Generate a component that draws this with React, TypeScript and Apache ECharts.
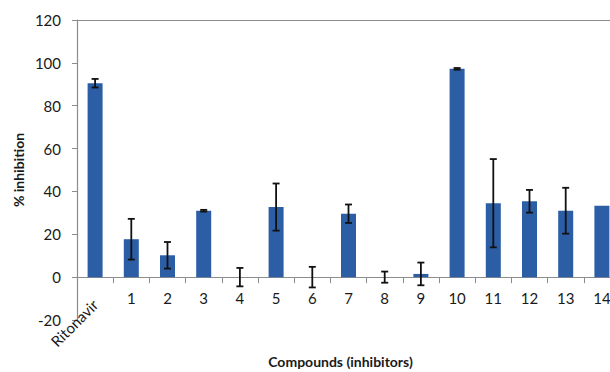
import React, { useEffect, useRef } from "react";
import * as echarts from "echarts";

const categories = ["Ritonavir", "1", "2", "3", "4", "5", "6", "7", "8", "9", "10", "11", "12", "13", "14"];
const inhibition = [90.5, 17.7, 10.2, 31.0, 0, 32.7, 0, 29.6, 0, 1.5, 97.2, 34.5, 35.4, 31.0, 33.3];
const errors = [2.0, 9.5, 6.2, 0.4, 4.3, 11.0, 4.8, 4.3, 2.6, 5.3, 0.4, 20.6, 5.3, 10.7, 0];
const yTicks = { min: -20, max: 120, interval: 20 };

const FONT = "Lato, 'Open Sans', sans-serif";

export default function App() {
  const ref = useRef<HTMLDivElement>(null);
  useEffect(() => {
    document.body.style.margin = "0";
    const chart = echarts.init(ref.current!, null, { renderer: "svg" });
    const errData = categories.map((_, i) => [i, inhibition[i], errors[i]]);
    chart.setOption({
      animation: false,
      textStyle: { fontFamily: FONT },
      grid: { left: 77, top: 20, width: 543, height: 300, outerBoundsMode: "none", containLabel: false },
      xAxis: [
        {
          type: "category",
          data: categories,
          position: "bottom",
          axisLine: { show: true, onZero: true, lineStyle: { color: "#8c8c8c", width: 1.2 } },
          axisTick: { show: true, inside: false, length: 6, interval: 0, lineStyle: { color: "#8c8c8c" } },
          axisLabel: {
            interval: 0,
            margin: -30,
            fontSize: 15,
            color: "#1a1a1a",
            fontFamily: FONT,
            formatter: (v: string, i: number) => (i === 0 ? "" : v),
          },
          name: "Compounds (inhibitors)",
          nameLocation: "middle",
          nameGap: 34,
          nameMoveOverlap: false,
          nameTextStyle: { fontSize: 14, fontWeight: "bold", color: "#1a1a1a", fontFamily: FONT, padding: [0, 16, 0, 0] },
        },
        {
          type: "category",
          data: categories,
          position: "bottom",
          axisLine: { show: false, onZero: true },
          axisTick: { show: false },
          axisLabel: {
            interval: 0,
            rotate: 45,
            margin: -18,
            fontSize: 15,
            color: "#1a1a1a",
            fontFamily: FONT,
            formatter: (v: string, i: number) => (i === 0 ? v : ""),
          },
        },
      ],
      yAxis: {
        type: "value",
        min: yTicks.min,
        max: yTicks.max,
        interval: yTicks.interval,
        splitLine: { show: false },
        axisLine: { show: true, lineStyle: { color: "#8c8c8c", width: 1.2 } },
        axisTick: { show: true, length: 5, lineStyle: { color: "#8c8c8c" } },
        axisLabel: { fontSize: 15, color: "#1a1a1a", margin: 16, fontFamily: FONT },
        name: "% inhibition",
        nameLocation: "middle",
        nameGap: 52,
        nameMoveOverlap: false,
        nameTextStyle: { fontSize: 14, fontWeight: "bold", color: "#1a1a1a", fontFamily: FONT },
      },
      series: [
        {
          type: "bar",
          xAxisIndex: 0,
          data: inhibition,
          barWidth: 15,
          itemStyle: { color: "#2b5ea5" },
          markLine: {
            silent: true,
            symbol: "none",
            label: { show: false },
            lineStyle: { color: "#8c8c8c", type: "solid", width: 1.2 },
            data: [{ yAxis: yTicks.max }],
          },
        },
        {
          type: "custom",
          xAxisIndex: 0,
          data: errData,
          z: 5,
          renderItem: (params: any, api: any) => {
            const x = api.value(0);
            const v = api.value(1);
            const e = api.value(2);
            if (!e) return null;
            const top = api.coord([x, v + e]);
            const bot = api.coord([x, v - e]);
            const half = 3.5;
            const style = { stroke: "#111", lineWidth: 1.8 };
            return {
              type: "group",
              children: [
                { type: "line", shape: { x1: top[0], y1: top[1], x2: bot[0], y2: bot[1] }, style },
                { type: "line", shape: { x1: top[0] - half, y1: top[1], x2: top[0] + half, y2: top[1] }, style },
                { type: "line", shape: { x1: bot[0] - half, y1: bot[1], x2: bot[0] + half, y2: bot[1] }, style },
              ],
            };
          },
        },
      ],
    });
    return () => chart.dispose();
  }, []);
  return <div ref={ref} style={{ width: 610, height: 372 }} />;
}
